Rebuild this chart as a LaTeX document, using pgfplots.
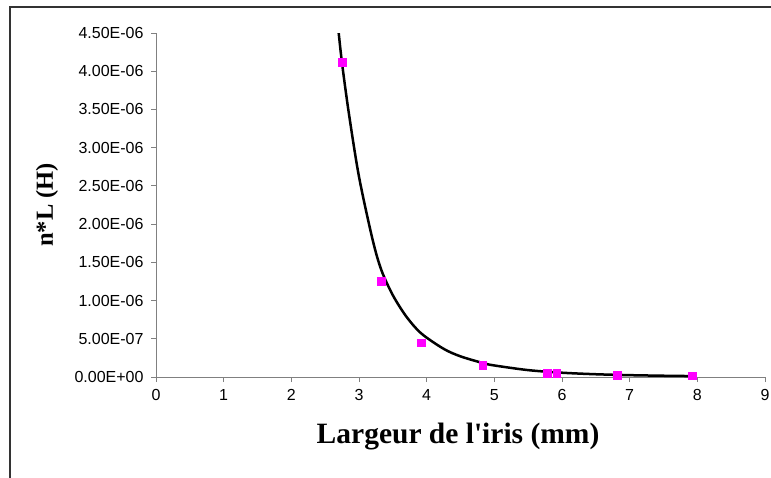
\documentclass[border=0pt]{standalone}
\usepackage{pgfplots}
\pgfplotsset{compat=1.18}
\usepackage{fontspec}
\setmainfont{Liberation Sans}
\newfontfamily\timesfont{Liberation Serif}

\definecolor{axisgray}{HTML}{808080}
\definecolor{framegray}{HTML}{333333}
\definecolor{pointmag}{HTML}{FF00FF}

% measured points
\pgfplotstableread{
x      y
2.75   4.12e-6
3.33   1.25e-6
3.92   4.5e-7
4.83   1.55e-7
5.78   5.0e-8
5.92   5.0e-8
6.82   2.5e-8
7.92   1.5e-8
}\mesures

% trend curve
\pgfplotstableread{
x      y
2.70   4.50e-6
2.75   4.10e-6
2.85   3.45e-6
3.00   2.62e-6
3.20   1.80e-6
3.33   1.40e-6
3.50   1.07e-6
3.70   7.9e-7
3.92   5.7e-7
4.25   3.69e-7
4.50   2.70e-7
4.83   1.83e-7
5.00   1.51e-7
5.50   9.0e-8
6.00   5.6e-8
6.50   3.6e-8
7.00   2.4e-8
7.50   1.65e-8
7.92   1.2e-8
}\tendance

\begin{document}
\begin{tikzpicture}[x=1pt,y=1pt]
\useasboundingbox (0,0) rectangle (771,477);
\draw[framegray, line width=1.5pt] (10,-20) -- (10,470) -- (800,470);
\begin{axis}[
    at={(156pt,100pt)}, anchor=origin,
    scale only axis,
    width=609pt, height=344pt,
    xmin=0, xmax=9,
    ymin=0, ymax=4.5e-6,
    axis x line=bottom, axis y line=left,
    axis line style={-, axisgray, line width=1pt},
    tick style={axisgray, line width=1pt},
    tick align=outside,
    major tick length=5pt,
    xtick={0,1,...,9},
    ytick={0,5e-7,1e-6,1.5e-6,2e-6,2.5e-6,3e-6,3.5e-6,4e-6,4.5e-6},
    yticklabels={0.00E+00,5.00E-07,1.00E-06,1.50E-06,2.00E-06,2.50E-06,3.00E-06,3.50E-06,4.00E-06,4.50E-06},
    scaled y ticks=false,
    /pgf/number format/assume math mode=true,
    ticklabel style={font=\fontsize{16}{19}\selectfont},
    xticklabel style={yshift=-4pt},
    yticklabel style={xshift=-4pt},
    xlabel={Largeur de l'iris (mm)},
    ylabel={n*L (H)},
    xlabel style={font=\timesfont\bfseries\fontsize{29.5}{33}\selectfont,
        at={(axis description cs:0.496,-0.174)}, anchor=center},
    ylabel style={font=\timesfont\bfseries\fontsize{24.5}{28}\selectfont,
        at={(axis description cs:-0.179,0.5)}, anchor=center},
]
\addplot[black, line width=2.5pt, smooth, no markers] table[x=x, y=y] {\tendance};
\addplot[only marks, mark=square*, mark size=3.8pt, draw=pointmag, fill=pointmag] table[x=x, y=y] {\mesures};
\end{axis}
\end{tikzpicture}
\end{document}
